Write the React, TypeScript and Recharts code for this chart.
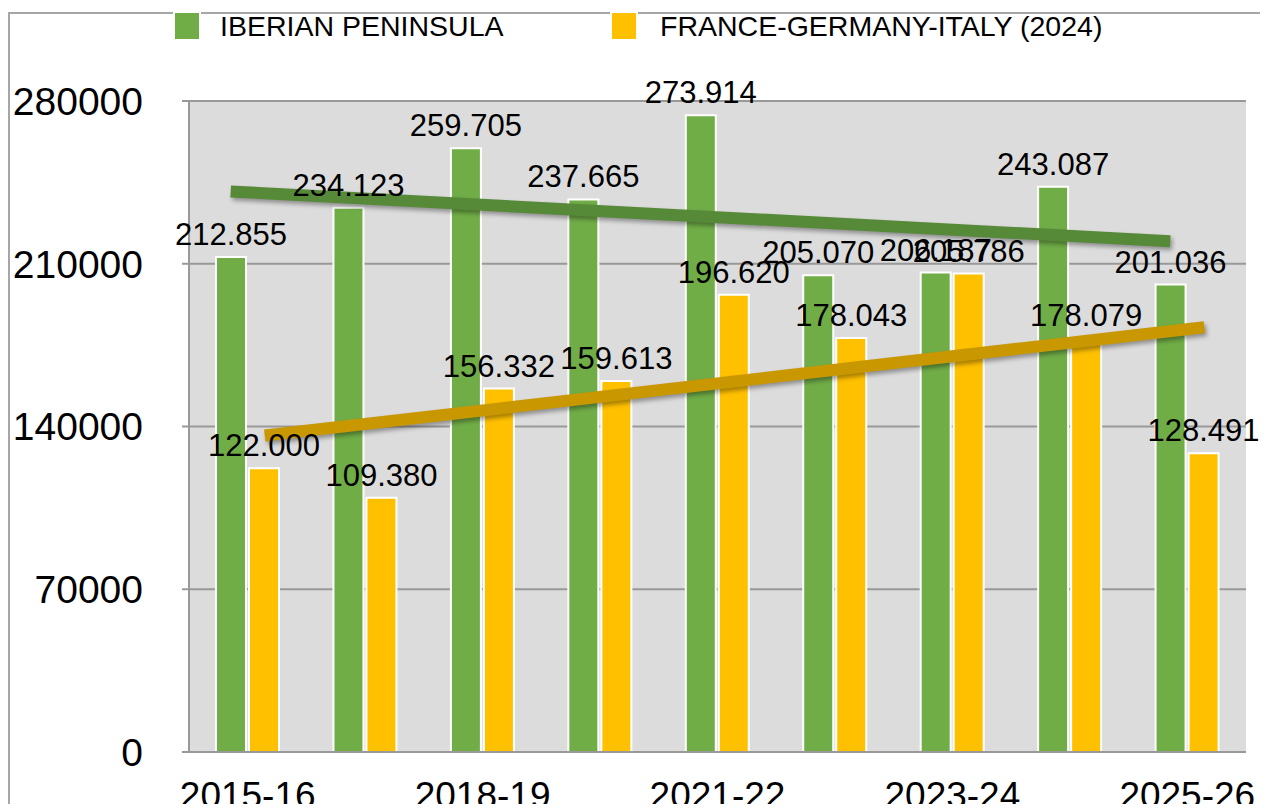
import React from 'react';
import { ComposedChart, Bar, Line, XAxis, YAxis, CartesianGrid, LabelList } from 'recharts';

const categories = ['2015-16', '2016-17', '2018-19', '2019-20', '2021-22', '2022-23', '2023-24', '2024-25', '2025-26'];
const iberian = [212855, 234123, 259705, 237665, 273914, 205070, 206187, 243087, 201036];
const fgi = [122000, 109380, 156332, 159613, 196620, 178043, 205786, 178079, 128491];
const seriesNames = ['IBERIAN PENINSULA', 'FRANCE-GERMANY-ITALY (2024)'];
const yTicks = [0, 70000, 140000, 210000, 280000];
// trendline values read at first and last category
const iberianTrend = [241100, 219700];
const fgiTrend = [136100, 182700];

const GREEN = '#70AD47';
const YELLOW = '#FFC000';
const GREEN_TREND = '#578a38';
const YELLOW_TREND = '#c99700';
const FONT = '"Liberation Sans", Arial, Helvetica, sans-serif';
const BAR_OFFSET = 0.145; // bar centre offset inside a category band (in band units)

const data = categories.map((c, i) => ({ cat: c, iberian: iberian[i], fgi: fgi[i] }));
const last = categories.length - 1;
const iberianTrendData = [
  { pos: 0.5 - BAR_OFFSET, v: iberianTrend[0] },
  { pos: last + 0.5 - BAR_OFFSET, v: iberianTrend[1] },
];
const fgiTrendData = [
  { pos: 0.5 + BAR_OFFSET, v: fgiTrend[0] },
  { pos: last + 0.5 + BAR_OFFSET, v: fgiTrend[1] },
];
const boundaryTicks = categories.map((_, i) => i).concat([categories.length]);

const fmt = (v: any) => (Number(v) / 1000).toFixed(3);
const EmptyTick = () => <g />;

export default function App() {
  return (
    <div
      style={{
        position: 'relative',
        top: 4,
        width: 1254,
        height: 796,
        boxSizing: 'border-box',
        borderTop: '2px solid #a6a6a6',
        borderLeft: '2px solid #a6a6a6',
        borderRight: '2px solid #a6a6a6',
        fontFamily: FONT,
      }}
    >
      <style>{`.trend { filter: drop-shadow(2px 3px 2px rgba(0,0,0,0.35)); }`}</style>
      <div style={{ position: 'absolute', left: 0, top: 0 }}>
        <ComposedChart
          width={1250}
          height={798}
          data={data}
          margin={{ top: 87, right: 14, bottom: 0, left: 0 }}
          barCategoryGap="23%"
          barGap={3}
        >
          <CartesianGrid xAxisId="cat" vertical={false} stroke="#999" strokeWidth={2} fill="#dcdcdc" />
          <XAxis
            xAxisId="num"
            type="number"
            dataKey="pos"
            domain={[0, categories.length]}
            ticks={boundaryTicks}
            interval={0}
            height={0}
            axisLine={false}
            tickLine={{ stroke: '#999', strokeWidth: 2 }}
            tickSize={7}
            tick={EmptyTick}
            allowDataOverflow
          />
          <XAxis
            xAxisId="cat"
            dataKey="cat"
            height={60}
            interval={1}
            tickLine={false}
            tickSize={7}
            tickMargin={23}
            axisLine={{ stroke: '#999', strokeWidth: 2 }}
            tick={{ fontSize: 37, fill: '#000', fontFamily: FONT }}
          />
          <YAxis
            width={179}
            domain={[0, 280000]}
            ticks={yTicks}
            interval={0}
            tickSize={7}
            tickMargin={39}
            axisLine={{ stroke: '#999', strokeWidth: 2 }}
            tickLine={{ stroke: '#999', strokeWidth: 2 }}
            tick={{ fontSize: 39, fill: '#000', fontFamily: FONT }}
          />
          <Bar xAxisId="cat" dataKey="iberian" name={seriesNames[0]} fill={GREEN} stroke="#fff" strokeWidth={2} isAnimationActive={false}>
            <LabelList dataKey="iberian" position="top" offset={12} formatter={fmt} style={{ fontSize: 31, fill: '#000', fontFamily: FONT }} />
          </Bar>
          <Bar xAxisId="cat" dataKey="fgi" name={seriesNames[1]} fill={YELLOW} stroke="#fff" strokeWidth={2} isAnimationActive={false}>
            <LabelList dataKey="fgi" position="top" offset={12} formatter={fmt} style={{ fontSize: 31, fill: '#000', fontFamily: FONT }} />
          </Bar>
          <Line
            xAxisId="num"
            data={iberianTrendData}
            dataKey="v"
            className="trend"
            stroke={GREEN_TREND}
            strokeWidth={12}
            strokeLinecap="butt"
            dot={false}
            activeDot={false}
            isAnimationActive={false}
            legendType="none"
          />
          <Line
            xAxisId="num"
            data={fgiTrendData}
            dataKey="v"
            className="trend"
            stroke={YELLOW_TREND}
            strokeWidth={12}
            strokeLinecap="butt"
            dot={false}
            activeDot={false}
            isAnimationActive={false}
            legendType="none"
          />
        </ComposedChart>
      </div>
      {/* legend */}
      {[GREEN, YELLOW].map((col, i) => (
        <React.Fragment key={i}>
          <div
            style={{
              position: 'absolute',
              left: i === 0 ? 163 : 600,
              top: -3,
              width: 24,
              height: 26,
              border: '2px solid #fff',
              background: col,
            }}
          />
          <div
            style={{
              position: 'absolute',
              left: i === 0 ? 210 : 650,
              top: -2,
              fontSize: 28.5,
              lineHeight: '29px',
              color: '#000',
              whiteSpace: 'nowrap',
            }}
          >
            {seriesNames[i]}
          </div>
        </React.Fragment>
      ))}
    </div>
  );
}
